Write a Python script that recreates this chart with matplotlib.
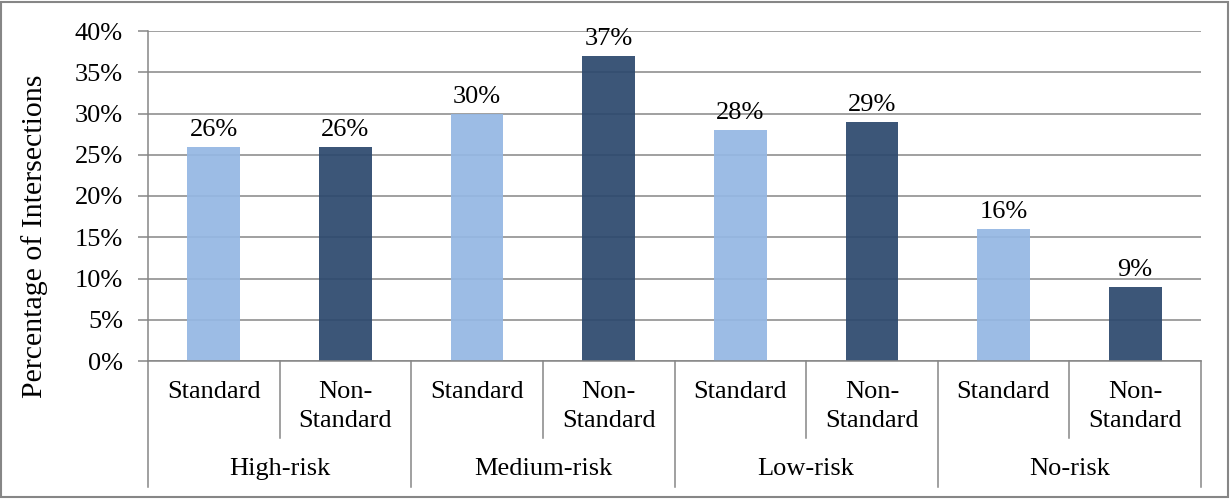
import matplotlib
matplotlib.use("Agg")
import matplotlib.pyplot as plt
from matplotlib.patches import Rectangle
from matplotlib.lines import Line2D

plt.rcParams['font.family'] = ['Liberation Serif', 'DejaVu Serif']

groups = ["High-risk", "Medium-risk", "Low-risk", "No-risk"]
subtypes = ["Standard", "Non-\nStandard"]
values = [26, 26, 30, 37, 28, 29, 16, 9]
colors = ["#95B7E3", "#2D496E"]
yticks = [0, 5, 10, 15, 20, 25, 30, 35, 40]

FS = 19
W, H = 1230, 500
fig = plt.figure(figsize=(W / 100, H / 100), dpi=100)
x0, x1, ytop, ybot = 148, 1201, 31, 361
ax = fig.add_axes([x0 / W, 1 - ybot / H, (x1 - x0) / W, (ybot - ytop) / H])

n = len(values)
xs = list(range(n))
bar_colors = [colors[i % 2] for i in range(n)]
ax.set_axisbelow(True)
ax.yaxis.grid(True, color="#868686", linewidth=1.1)
bars = ax.bar(xs, values, width=0.40, color=bar_colors, alpha=0.93, zorder=2)
for x, v in zip(xs, values):
    ax.annotate(f"{v}%", (x, v), xytext=(0, 4), textcoords="offset points",
                ha="center", va="bottom", fontsize=FS, color="#000000")

ax.set_xlim(-0.5, n - 0.5)
ax.set_ylim(0, 40)
ax.set_yticks(yticks)
ax.set_yticklabels([f"{t}%" for t in yticks], fontsize=FS)
ax.tick_params(axis="y", length=7, width=1.1, color="#868686", pad=11)
ax.set_xticks([])
for s in ["top", "right"]:
    ax.spines[s].set_visible(False)
for s in ["left", "bottom"]:
    ax.spines[s].set_color("#868686")
    ax.spines[s].set_linewidth(1.1)

# Two-level category axis below the plot
ah = ybot - ytop
sub_depth = -(438 - ybot) / ah
grp_depth = -(487 - ybot) / ah
trans = ax.get_xaxis_transform()
for i in range(n + 1):
    xb = i - 0.5
    depth = grp_depth if i % 2 == 0 else sub_depth
    ax.add_line(Line2D([xb, xb], [0, depth], transform=trans, color="#868686",
                       linewidth=1.1, clip_on=False))
for i, v in enumerate(values):
    ax.text(i, -(381 - ybot) / ah, subtypes[i % 2], transform=trans,
            ha="center", va="top", fontsize=FS, linespacing=1.4)
for g, name in enumerate(groups):
    ax.text(2 * g + 0.5, -(469 - ybot) / ah, name, transform=trans,
            ha="center", va="center", fontsize=FS)

fig.text(35 / W, 1 - 236 / H, "Percentage of Intersections", rotation=90,
         ha="center", va="center", fontsize=21.5)

fig.patches.append(Rectangle((1 / W, 3 / H), 1227 / W, 495 / H, transform=fig.transFigure,
                             fill=False, edgecolor="#868686", linewidth=1.5))

fig.savefig("out.png", dpi=100)
